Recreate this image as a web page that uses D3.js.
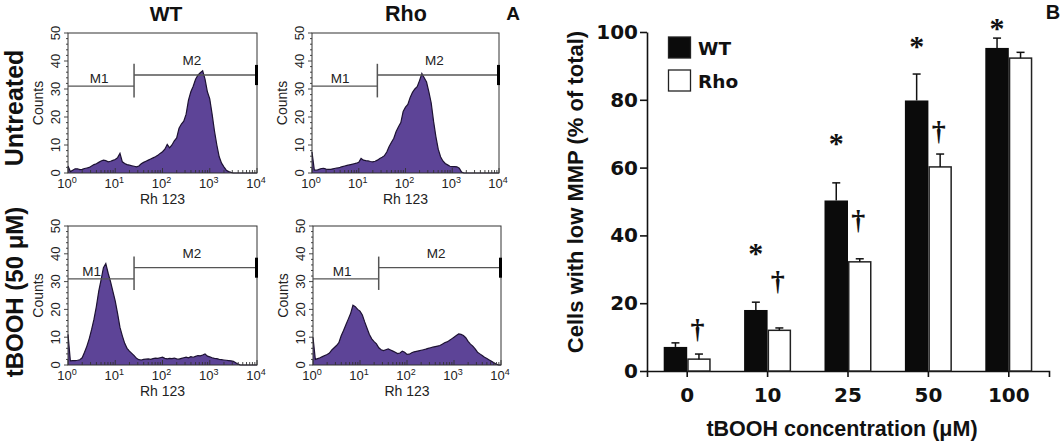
<!DOCTYPE html>
<html>
<head>
<meta charset="utf-8">
<script src="https://cdn.jsdelivr.net/npm/d3@7"></script>
<style>
  html, body { margin: 0; padding: 0; background: #fff; }
  svg { display: block; }
  .sans { font-family: "Liberation Sans", Arial, sans-serif; }
  .tickB text { font-family: "DejaVu Sans", sans-serif; font-weight: bold; font-size: 20px; fill: #111; }
</style>
</head>
<body>
<div id="chart"></div>
<script>
// ---- panel A: flow cytometry histograms (Rh 123, log decades) ----
const channelLog = [
  0.00, 0.05, 0.10, 0.15, 0.20, 0.25, 0.30, 0.35, 0.40, 0.45,
  0.50, 0.55, 0.60, 0.65, 0.70, 0.75, 0.80, 0.85, 0.90, 0.95,
  1.00, 1.05, 1.10, 1.15, 1.20, 1.25, 1.30, 1.35, 1.40, 1.45,
  1.50, 1.55, 1.60, 1.65, 1.70, 1.75, 1.80, 1.85, 1.90, 1.95,
  2.00, 2.05, 2.10, 2.15, 2.20, 2.25, 2.30, 2.35, 2.40, 2.45,
  2.50, 2.55, 2.60, 2.65, 2.70, 2.75, 2.80, 2.85, 2.90, 2.95,
  3.00, 3.05, 3.10, 3.15, 3.20, 3.25, 3.30, 3.35, 3.40, 3.45,
  3.50, 3.55, 3.60, 3.65, 3.70, 3.75, 3.80, 3.85, 3.90, 3.95, 4.00
];
const wtUntreated = [
  2.5, 0.5, 1.0, 1.5, 1.5, 1.2, 1.3, 1.6, 1.8, 2.0,
  2.5, 3.0, 3.3, 3.8, 4.3, 4.6, 4.4, 4.0, 4.2, 4.5,
  4.8, 5.5, 7.0, 4.0, 3.4, 3.0, 2.8, 2.6, 2.4, 2.2,
  2.5, 3.3, 3.8, 4.2, 4.6, 5.0, 5.4, 5.8, 6.3, 7.0,
  7.6, 8.5, 10.2, 9.0, 10.0, 11.5, 12.5, 16.0, 17.5, 18.5,
  21.0, 26.0, 29.0, 31.0, 33.5, 35.0, 35.8, 36.5, 33.5, 29.0,
  26.5, 21.0, 15.0, 10.0, 5.8, 3.5, 2.2, 1.0, 0.5, 0.2,
  0, 0, 0, 0, 0, 0, 0, 0, 0, 0, 0
];
const rhoUntreated = [
  7.5, 1.0, 1.0, 1.3, 1.6, 1.7, 1.4, 1.3, 1.3, 1.5,
  1.7, 1.8, 2.0, 2.3, 2.5, 2.7, 2.9, 3.1, 3.3, 3.5,
  3.8, 5.2, 4.6, 4.4, 4.3, 4.1, 4.0, 4.2, 4.6, 5.2,
  5.6, 6.2, 7.5, 9.5, 11.0, 12.4, 14.8, 16.5, 18.0, 22.0,
  23.5, 24.5, 27.0, 28.8, 30.0, 30.8, 33.0, 35.5, 34.0, 32.5,
  29.0, 25.0, 18.5, 13.0, 8.5, 5.8, 4.3, 3.4, 2.9, 2.4,
  2.3, 2.3, 2.2, 1.7, 0.3, 0, 0, 0, 0, 0,
  0, 0, 0, 0, 0, 0, 0, 0, 0, 0, 0
];
const wtTbooh = [
  11.0, 1.5, 1.6, 1.6, 1.7, 1.9, 2.6, 4.6, 6.8, 9.5,
  12.8, 16.5, 21.0, 26.5, 30.6, 35.0, 36.5, 33.0, 30.0, 26.5,
  23.0, 18.5, 13.5, 10.5, 7.8, 6.0, 5.0, 4.2, 3.4, 2.4,
  1.9, 1.8, 2.0, 2.1, 2.2, 2.0, 2.3, 2.5, 2.4, 2.6,
  2.8, 2.4, 2.2, 2.4, 2.3, 2.5, 2.2, 2.1, 2.4, 2.6,
  2.8, 2.6, 3.0, 2.8, 3.1, 3.4, 3.3, 3.6, 4.0, 3.2,
  2.9, 2.6, 2.4, 2.3, 2.0, 1.9, 1.8, 1.7, 1.6, 1.5,
  1.3, 0.8, 0.3, 0, 0, 0, 0, 0, 0, 0, 0
];
const rhoTbooh = [
  10.0, 2.0, 2.3, 2.6, 3.0, 3.4, 3.8, 4.3, 5.4, 6.2,
  7.0, 8.0, 10.5, 12.4, 14.5, 16.5, 18.5, 21.5, 21.0, 20.0,
  19.4, 18.0, 15.5, 13.2, 11.0, 9.4, 8.4, 7.6, 6.2, 5.5,
  5.2, 5.5, 5.8, 5.4, 5.0, 4.6, 4.1, 4.3, 5.0, 4.6,
  3.8, 3.9, 4.4, 4.7, 4.9, 5.1, 5.3, 5.5, 5.7, 6.0,
  6.2, 6.4, 6.6, 6.8, 7.0, 7.5, 8.0, 8.3, 8.8, 9.4,
  10.0, 10.6, 11.2, 11.0, 10.6, 9.8, 8.5, 7.5, 6.8, 5.8,
  4.6, 4.0, 3.4, 2.8, 2.3, 1.8, 1.3, 0.8, 0.3, 0, 0
];
const countTicks = [0, 10, 20, 30, 40, 50];
const decadeTicks = [1, 10, 100, 1000, 10000];
// marker gates (Rh 123 intensity) and their heights in counts
const gateM1 = [1, 25];
const gateM2 = [25, 10000];
const gateHeights = [31, 35];

// ---- panel B: bar chart ----
const concentrations = ["0", "10", "25", "50", "100"];
const wtMean = [7.1, 18.0, 50.3, 79.8, 95.3];
const wtErr = [1.2, 2.3, 5.2, 7.8, 2.9];
const rhoMean = [3.5, 12.0, 32.2, 60.2, 92.3];
const rhoErr = [1.5, 0.7, 0.9, 3.8, 1.7];
const wtMark = ["", "*", "*", "*", "*"];
const wtMarkAt = [null, 36, 68.4, 97, 102.4];
const rhoMark = ["\u2020", "\u2020", "\u2020", "\u2020", ""];
const rhoMarkAt = [12.1, 26.3, 44.2, 70.5, null];
const percentTicks = [0, 20, 40, 60, 80, 100];

const W = 1063, H = 444;
const svg = d3.select('#chart').append('svg')
  .attr('width', W).attr('height', H)
  .attr('viewBox', `0 0 ${W} ${H}`);
svg.append('rect').attr('width', W).attr('height', H).attr('fill', '#fff');

// ================= panel A =================
const panels = [
  { x: 68, y: 33, w: 189, h: 140, counts: wtUntreated, m1At: 0.66 },
  { x: 312, y: 33, w: 187, h: 140, counts: rhoUntreated, m1At: 0.6 },
  { x: 68, y: 226, w: 189, h: 139, counts: wtTbooh, m1At: 0.5 },
  { x: 313, y: 226, w: 188, h: 139, counts: rhoTbooh, m1At: 0.62 },
];

panels.forEach(p => {
  const g = svg.append('g').attr('transform', `translate(${p.x},${p.y})`).attr('class', 'sans');
  const xs = d3.scaleLog().domain([1, 10000]).range([0, p.w]);
  const ys = d3.scaleLinear().domain([0, 50]).range([p.h, 0]);

  const pts = channelLog.map((c, i) => [Math.pow(10, c), p.counts[i]]);
  const area = d3.area()
    .x(d => xs(d[0]))
    .y0(ys(0))
    .y1(d => ys(d[1]));
  const line = d3.line().x(d => xs(d[0])).y(d => ys(d[1]));

  g.append('path').datum(pts).attr('d', area).attr('fill', '#5d4497');
  g.append('path').datum(pts).attr('d', line)
    .attr('fill', 'none').attr('stroke', '#1d1233').attr('stroke-width', 1.2);

  // frame
  g.append('rect').attr('width', p.w).attr('height', p.h)
    .attr('fill', 'none').attr('stroke', '#333').attr('stroke-width', 1);

  // x ticks (inward, log minor)
  g.selectAll('.xt').data(xs.ticks()).join('line')
    .attr('x1', d => xs(d)).attr('x2', d => xs(d))
    .attr('y1', p.h).attr('y2', d => p.h - (decadeTicks.includes(d) ? 5 : 3))
    .attr('stroke', '#333').attr('stroke-width', 0.9);
  // y ticks (outward)
  g.selectAll('.yt').data(ys.ticks(25)).join('line')
    .attr('x1', 0).attr('x2', d => (d % 10 === 0 ? -4 : -2))
    .attr('y1', d => ys(d)).attr('y2', d => ys(d))
    .attr('stroke', '#333').attr('stroke-width', 0.9);

  // y tick labels (rotated)
  g.selectAll('.yl').data(countTicks).join('text')
    .attr('transform', d => `translate(-8,${ys(d)}) rotate(-90)`)
    .attr('text-anchor', 'middle')
    .attr('font-size', 13).attr('fill', '#222')
    .text(d => d);
  // x tick labels 10^n
  const xl = g.selectAll('.xl').data(decadeTicks).join('text')
    .attr('x', d => xs(d) - 1).attr('y', p.h + 15)
    .attr('text-anchor', 'middle')
    .attr('font-size', 13).attr('fill', '#222');
  xl.append('tspan').text('10');
  xl.append('tspan').attr('dy', -5.5).attr('font-size', 9).text(d => Math.round(Math.log10(d)));

  g.append('text').attr('x', p.w / 2).attr('y', p.h + 31)
    .attr('text-anchor', 'middle').attr('font-size', 14).attr('fill', '#222')
    .text('Rh 123');
  g.append('text')
    .attr('transform', `translate(-25,${p.h / 2}) rotate(-90)`)
    .attr('text-anchor', 'middle').attr('font-size', 14).attr('fill', '#222')
    .text('Counts');

  // gates
  const gc = '#555';
  g.append('line').attr('x1', xs(gateM1[0])).attr('x2', xs(gateM1[1]))
    .attr('y1', ys(gateHeights[0])).attr('y2', ys(gateHeights[0]))
    .attr('stroke', gc).attr('stroke-width', 1.3);
  g.append('line').attr('x1', xs(gateM2[0])).attr('x2', xs(gateM2[1]))
    .attr('y1', ys(gateHeights[1])).attr('y2', ys(gateHeights[1]))
    .attr('stroke', gc).attr('stroke-width', 1.3);
  g.append('line').attr('x1', xs(gateM1[1])).attr('x2', xs(gateM1[1]))
    .attr('y1', ys(27)).attr('y2', ys(39))
    .attr('stroke', gc).attr('stroke-width', 1.5);
  g.append('line').attr('x1', xs(gateM2[1]) - 0.5).attr('x2', xs(gateM2[1]) - 0.5)
    .attr('y1', ys(gateHeights[1] - 3.6)).attr('y2', ys(gateHeights[1] + 3.6))
    .attr('stroke', '#000').attr('stroke-width', 3);
  g.append('text').attr('x', xs(Math.pow(10, p.m1At))).attr('y', ys(32))
    .attr('text-anchor', 'middle').attr('font-size', 13.5).attr('fill', '#222').text('M1');
  g.append('text').attr('x', xs(Math.pow(10, 2.62))).attr('y', ys(38.6))
    .attr('text-anchor', 'middle').attr('font-size', 13.5).attr('fill', '#222').text('M2');
});

// column / row titles
const boldA = { 'font-family': '"Liberation Sans", Arial, sans-serif', 'font-weight': 'bold', fill: '#111' };
function txt(s, x, y, size) {
  const t = svg.append('text').attr('x', x).attr('y', y).attr('font-size', size).text(s);
  Object.entries(boldA).forEach(([k, v]) => t.attr(k, v));
  return t;
}
txt('WT', 166, 21, 21).attr('text-anchor', 'middle');
txt('Rho', 406, 21, 21.5).attr('text-anchor', 'middle');
txt('A', 513, 20, 19).attr('text-anchor', 'middle');
txt('B', 1053, 19, 20).attr('text-anchor', 'middle');
txt('Untreated', 0, 0, 25).attr('text-anchor', 'middle')
  .attr('transform', 'translate(23,108) rotate(-90)');
txt('tBOOH (50 \u03bcM)', 0, 0, 24).attr('text-anchor', 'middle')
  .attr('transform', 'translate(23,292) rotate(-90)');

// ================= panel B =================
const bx = d3.scaleBand().domain(concentrations).range([647, 1049]);
const by = d3.scaleLinear().domain([0, 100]).range([371, 32]);
const barW = 23.5;
const gB = svg.append('g');

gB.append('g').attr('class', 'tickB')
  .attr('transform', 'translate(647,0)')
  .call(d3.axisLeft(by).tickValues(percentTicks).tickSize(7).tickSizeOuter(0).tickPadding(2))
  .call(a => a.selectAll('path,line').attr('stroke', '#111').attr('stroke-width', 1.6));

gB.append('g').attr('class', 'tickB')
  .attr('transform', 'translate(0,371)')
  .call(d3.axisBottom(bx).tickSize(6).tickSizeOuter(6).tickPadding(11))
  .call(a => a.selectAll('path,line').attr('stroke', '#111').attr('stroke-width', 1.6));

const center = c => bx(c) + bx.bandwidth() / 2;

// bars
gB.selectAll('.wt').data(concentrations).join('rect')
  .attr('x', c => center(c) - barW).attr('width', barW)
  .attr('y', (c, i) => by(wtMean[i])).attr('height', (c, i) => by(0) - by(wtMean[i]))
  .attr('fill', '#0b0b0b');
gB.selectAll('.rho').data(concentrations).join('rect')
  .attr('x', c => center(c) + 0.75).attr('width', barW - 1.5)
  .attr('y', (c, i) => by(rhoMean[i])).attr('height', (c, i) => by(0) - by(rhoMean[i]))
  .attr('fill', '#fff').attr('stroke', '#222').attr('stroke-width', 1.5);

// error bars (upper only)
function errBars(means, errs, offset) {
  concentrations.forEach((c, i) => {
    const cx = center(c) + offset;
    gB.append('line').attr('x1', cx).attr('x2', cx)
      .attr('y1', by(means[i])).attr('y2', by(means[i] + errs[i]))
      .attr('stroke', '#111').attr('stroke-width', 1.5);
    gB.append('line').attr('x1', cx - 4).attr('x2', cx + 4)
      .attr('y1', by(means[i] + errs[i])).attr('y2', by(means[i] + errs[i]))
      .attr('stroke', '#111').attr('stroke-width', 1.5);
  });
}
errBars(wtMean, wtErr, -barW / 2);
errBars(rhoMean, rhoErr, barW / 2);

// significance marks
concentrations.forEach((c, i) => {
  if (wtMark[i]) {
    gB.append('text').attr('x', center(c) - barW / 2).attr('y', by(wtMarkAt[i]) + 14)
      .attr('text-anchor', 'middle').attr('font-family', '"Liberation Serif", serif')
      .attr('font-weight', 'bold').attr('font-size', 30).attr('fill', '#111').text(wtMark[i]);
  }
  if (rhoMark[i]) {
    gB.append('text').attr('x', center(c) + barW / 2 - 1.5).attr('y', by(rhoMarkAt[i]) + 8)
      .attr('text-anchor', 'middle').attr('font-family', '"Liberation Serif", serif')
      .attr('font-weight', 'bold').attr('font-size', 28).attr('fill', '#111').text(rhoMark[i]);
  }
});

// legend
const legend = [
  { label: 'WT', fill: '#0b0b0b', y: 37 },
  { label: 'Rho', fill: '#fff', y: 70 },
];
legend.forEach(l => {
  gB.append('rect').attr('x', 668.5).attr('y', l.y).attr('width', 22).attr('height', 21)
    .attr('fill', l.fill).attr('stroke', '#222').attr('stroke-width', 1.3);
  gB.append('text').attr('x', 698).attr('y', l.y + 18)
    .attr('font-family', '"DejaVu Sans", sans-serif').attr('font-weight', 'bold')
    .attr('font-size', 18.5).attr('fill', '#111').text(l.label);
});

// axis titles
txt('Cells with low MMP (% of total)', 0, 0, 22).attr('text-anchor', 'middle')
  .attr('transform', 'translate(583,192) rotate(-90)');
txt('tBOOH concentration (\u03bcM)', 842, 436, 21.5).attr('text-anchor', 'middle');
</script>
</body>
</html>
